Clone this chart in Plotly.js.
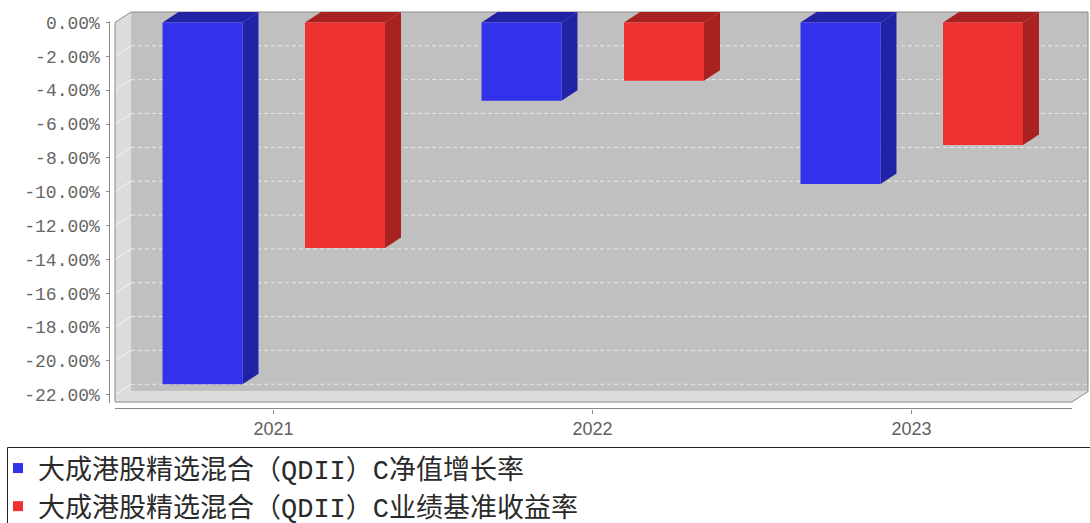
<!DOCTYPE html>
<html><head><meta charset="utf-8">
<script src="https://cdn.plot.ly/plotly-3.0.1.min.js"></script>
<style>body{margin:0;background:#fff}#chart{width:1090px;height:523px}</style>
</head><body><div id="chart"></div>
<script>
// ---- data ----
const years = ['2021', '2022', '2023'];
const navGrowth = [-21.38, -4.63, -9.54];
const benchmark = [-13.33, -3.45, -7.24];
const seriesNames = ['大成港股精选混合（QDII）C净值增长率', '大成港股精选混合（QDII）C业绩基准收益率'];
const yTickVals = [0, -2, -4, -6, -8, -10, -12, -14, -16, -18, -20, -22];
const yTickText = ['0.00%', '-2.00%', '-4.00%', '-6.00%', '-8.00%', '-10.00%', '-12.00%', '-14.00%', '-16.00%', '-18.00%', '-20.00%', '-22.00%'];

// ---- geometry / style ----
const PL = 100, PR = 1089, PT = 11, PB = 412;   // plot area in px
const CX0 = 273.5, SX = 319;                     // px of first category, px per category
const Y0 = 22.5, SY = 16.92;                     // px of 0 %, px per 1 %
const u = px => (px - CX0) / SX;
const v = py => (Y0 - py) / SY;
const DX = 16, DY = 10.5;
const dxu = DX / SX, dyu = DY / SY;
const FL = 115, FR = 1072, FB = 402;
const xl = u(FL), xrr = u(FR), yb = v(FB);
const paperX = px => (px - PL) / (PR - PL);
const paperY = py => (PB - py) / (PB - PT);

const BAR_W = 80 / SX;
const offsets = [(162.5 - CX0) / SX, (305 - CX0) / SX];
const frontColors = ['#3232EA', '#EE3131'];
const darkColors = ['#2222A6', '#A82222'];
const xs = years.map((_, i) => i);

const P = (pts) => 'M' + pts.map(p => p[0] + ',' + p[1]).join('L') + 'Z';

const shapes = [];
// back wall
shapes.push({type: 'rect', xref: 'x', yref: 'y', x0: xl + dxu, x1: xrr + dxu, y0: yb + dyu, y1: dyu,
  fillcolor: '#C0C0C0', line: {width: 0}, layer: 'below'});
// left wall
shapes.push({type: 'path', xref: 'x', yref: 'y', path: P([[xl, yb], [xl, 0], [xl + dxu, dyu], [xl + dxu, yb + dyu]]),
  fillcolor: '#DCDCDC', line: {width: 0}, layer: 'below'});
// floor
shapes.push({type: 'path', xref: 'x', yref: 'y', path: P([[xl, yb], [xl + dxu, yb + dyu], [xrr + dxu, yb + dyu], [xrr, yb]]),
  fillcolor: '#DCDCDC', line: {width: 0}, layer: 'below'});
// gridlines
yTickVals.forEach(t => {
  if (t === 0) return;
  shapes.push({type: 'line', xref: 'x', yref: 'y', x0: xl + dxu, x1: xrr + dxu, y0: t + dyu, y1: t + dyu,
    line: {color: '#E8E8E8', width: 1, dash: '4px,3px'}, layer: 'below'});
  shapes.push({type: 'line', xref: 'x', yref: 'y', x0: xl, x1: xl + dxu, y0: t, y1: t + dyu,
    line: {color: '#F4F4F4', width: 1}, layer: 'below'});
});
// frame outline
shapes.push({type: 'path', xref: 'x', yref: 'y',
  path: 'M' + xl + ',' + yb + 'L' + xl + ',0L' + (xl + dxu) + ',' + dyu + 'L' + (xrr + dxu) + ',' + dyu +
        'L' + (xrr + dxu) + ',' + (yb + dyu) + 'L' + xrr + ',' + yb + 'Z',
  line: {color: '#8A8A8A', width: 1}, layer: 'below'});
// 3D bar faces
[navGrowth, benchmark].forEach((vals, s) => {
  vals.forEach((val, i) => {
    const x0 = i + offsets[s], x1 = x0 + BAR_W;
    shapes.push({type: 'path', xref: 'x', yref: 'y', path: P([[x0, 0], [x0 + dxu, dyu], [x1 + dxu, dyu], [x1, 0]]),
      fillcolor: darkColors[s], line: {width: 0}, layer: 'below'});
    shapes.push({type: 'path', xref: 'x', yref: 'y', path: P([[x1, 0], [x1 + dxu, dyu], [x1 + dxu, val + dyu], [x1, val]]),
      fillcolor: darkColors[s], line: {width: 0}, layer: 'below'});
  });
});
// axis lines
shapes.push({type: 'line', xref: 'paper', yref: 'paper', x0: paperX(109.5), x1: paperX(109.5), y0: paperY(21.5), y1: paperY(403),
  line: {color: '#8A8A8A', width: 1}});
shapes.push({type: 'line', xref: 'paper', yref: 'paper', x0: paperX(115), x1: paperX(1072), y0: paperY(408.5), y1: paperY(408.5),
  line: {color: '#8A8A8A', width: 1}});
// legend frame
shapes.push({type: 'rect', xref: 'paper', yref: 'paper', x0: paperX(7.5), x1: paperX(1100), y0: paperY(447.5), y1: paperY(540),
  line: {color: '#222', width: 1}, fillcolor: 'rgba(0,0,0,0)'});

const traces = [navGrowth, benchmark].map((vals, s) => ({
  type: 'bar', x: xs, y: vals, width: BAR_W, offset: offsets[s], base: 0,
  marker: {color: frontColors[s], line: {width: 0}}, showlegend: false, hoverinfo: 'skip'
}));
seriesNames.forEach((name, s) => {
  traces.push({type: 'scatter', mode: 'markers', x: [null], y: [null], name: name, legendgroup: 'g' + s,
    marker: {symbol: 'square', size: 10, color: frontColors[s]}, showlegend: true});
});

const layout = {
  width: 1090, height: 523,
  margin: {l: PL, r: 1090 - PR, t: PT, b: 523 - PB, autoexpand: false},
  paper_bgcolor: '#FFFFFF', plot_bgcolor: 'rgba(0,0,0,0)',
  barmode: 'overlay',
  xaxis: {domain: [paperX(114), 1], range: [u(114), u(1089)], anchor: 'free', position: (PB - 408.5) / (PB - PT),
    tickvals: xs, ticktext: years, ticks: 'outside', ticklen: 4, tickcolor: '#8A8A8A', showline: false,
    showgrid: false, zeroline: false, fixedrange: true, ticklabelstandoff: 0,
    tickfont: {family: 'Liberation Sans, Arial, sans-serif', size: 18, color: '#606060'}},
  yaxis: {domain: [(PB - 403) / (PB - PT), 1], range: [v(403), v(11)], anchor: 'free', position: paperX(109.5),
    tickvals: yTickVals, ticktext: yTickText, ticks: 'outside', ticklen: 4, tickcolor: '#8A8A8A', showline: false,
    showgrid: false, zeroline: false, fixedrange: true, ticklabelstandoff: 2,
    tickfont: {family: 'Liberation Mono, DejaVu Sans Mono, monospace', size: 18, color: '#666'}},
  shapes: shapes,
  showlegend: true,
  legend: {x: paperX(-2), y: paperY(444), xanchor: 'left', yanchor: 'top', orientation: 'v',
    bgcolor: 'rgba(0,0,0,0)', borderwidth: 0, tracegroupgap: 0,
    font: {family: 'Liberation Mono, Noto Sans CJK SC, sans-serif', size: 27, color: '#2a2a2a'}},
  hovermode: false
};
Plotly.newPlot('chart', traces, layout, {displayModeBar: false, staticPlot: true});
</script></body></html>
